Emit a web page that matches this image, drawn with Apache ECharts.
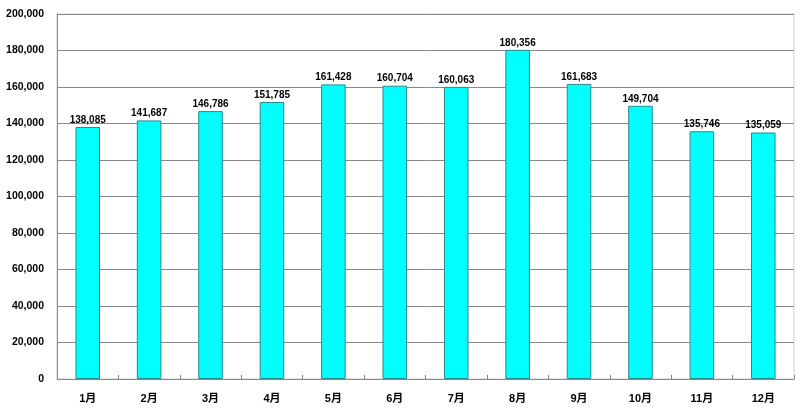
<!DOCTYPE html>
<html><head><meta charset="utf-8">
<script src="https://cdn.jsdelivr.net/npm/echarts@6/dist/echarts.min.js"></script>
<style>html,body{margin:0;padding:0;background:#fff}#c{width:800px;height:411px}</style>
</head><body><div id="c"></div>
<script>
const categories = ['1月','2月','3月','4月','5月','6月','7月','8月','9月','10月','11月','12月'];
const values = [138085,141687,146786,151785,161428,160704,160063,180356,161683,149704,135746,135059];
const yTicks = {min:0, max:200000, interval:20000};
const chart = echarts.init(document.getElementById('c'));
const font = '"Liberation Sans", "Noto Sans CJK JP", sans-serif';
chart.setOption({
  animation:false,
  grid:{left:57,right:6,top:14,bottom:32,show:true,borderColor:'#d0d0d0',borderWidth:1,containLabel:false,outerBoundsMode:'none'},
  xAxis:{type:'category',data:categories,
    axisLine:{lineStyle:{color:'#888',width:1}},
    axisTick:{show:true,inside:true,length:4,lineStyle:{color:'#888'}},
    axisLabel:{color:'#000',fontWeight:'bold',fontSize:11,fontFamily:font,margin:14}},
  yAxis:{type:'value',min:yTicks.min,max:yTicks.max,interval:yTicks.interval,
    axisLine:{show:true,lineStyle:{color:'#888'}},
    axisTick:{show:false},
    splitLine:{lineStyle:{color:'#888',width:1}},
    axisLabel:{color:'#000',fontWeight:'bold',fontSize:10.5,fontFamily:font,margin:13,
      formatter:v=>v.toLocaleString('en-US')}},
  series:[{type:'bar',data:values,barWidth:'40%',
    itemStyle:{color:'#00FFFF',borderColor:'#2a8a8a',borderWidth:1},
    label:{show:true,position:'top',distance:2,color:'#000',fontWeight:'bold',fontSize:10,fontFamily:font,
      formatter:p=>p.value.toLocaleString('en-US')}}]
});
</script></body></html>
